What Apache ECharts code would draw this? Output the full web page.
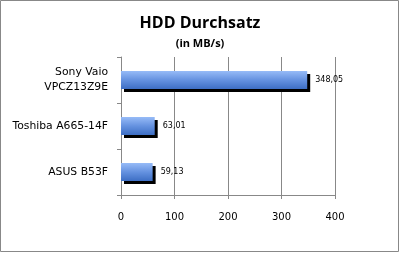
<!DOCTYPE html>
<html><head><meta charset="utf-8">
<script src="https://cdn.jsdelivr.net/npm/echarts@6/dist/echarts.min.js"></script>
<style>html,body{margin:0;padding:0;background:#fff}#c{width:400px;height:253px}</style>
</head><body><div id="c"></div>
<script>
const categories = ['ASUS B53F', 'Toshiba A665-14F', 'Sony Vaio\nVPCZ13Z9E'];
const values = [59.13, 63.01, 348.05];
const xTicks = [0, 100, 200, 300, 400];

const chart = echarts.init(document.getElementById('c'), null, {renderer: 'canvas'});
chart.setOption({
  animation: false,
  backgroundColor: '#fff',
  title: {
    text: 'HDD Durchsatz',
    subtext: '(in MB/s)',
    left: 'center',
    top: 10,
    itemGap: 7,
    textStyle: {fontFamily: 'Open Sans', fontWeight: 'bold', fontSize: 16, color: '#000'},
    subtextStyle: {fontFamily: 'Open Sans', fontWeight: 'bold', fontSize: 11, color: '#000'}
  },
  graphic: [{
    type: 'rect', shape: {x: 0.5, y: 0.5, width: 398, height: 251},
    style: {fill: 'none', stroke: '#888', lineWidth: 1}, silent: true
  }],
  grid: {left: 121, right: 65, top: 57, bottom: 58, containLabel: false},
  xAxis: {
    type: 'value', min: xTicks[0], max: xTicks[xTicks.length - 1], interval: 100,
    axisLine: {show: true, lineStyle: {color: '#888'}},
    axisTick: {show: true, length: 4, lineStyle: {color: '#888'}},
    splitLine: {show: true, lineStyle: {color: '#888'}},
    axisLabel: {fontFamily: 'DejaVu Sans', fontSize: 10, color: '#000', margin: 17}
  },
  yAxis: {
    type: 'category', data: categories,
    axisLine: {show: true, lineStyle: {color: '#888'}},
    axisTick: {show: true, length: 4, lineStyle: {color: '#888'}},
    axisLabel: {fontFamily: 'DejaVu Sans', fontSize: 10.8, color: '#000', margin: 13, lineHeight: 15, align: 'right'}
  },
  series: [{
    type: 'bar', data: values, barWidth: 18,
    itemStyle: {
      color: new echarts.graphic.LinearGradient(0, 0, 0, 1, [
        {offset: 0, color: '#97bbf7'},
        {offset: 0.5, color: '#6592e0'},
        {offset: 1, color: '#3d6ec4'}
      ]),
      shadowColor: '#000', shadowBlur: 0, shadowOffsetX: 3, shadowOffsetY: 3
    },
    label: {
      show: true, position: 'right', distance: 8,
      fontFamily: 'DejaVu Sans', fontSize: 8, color: '#000',
      formatter: p => p.value.toFixed(2).replace('.', ',')
    }
  }]
});
</script></body></html>
